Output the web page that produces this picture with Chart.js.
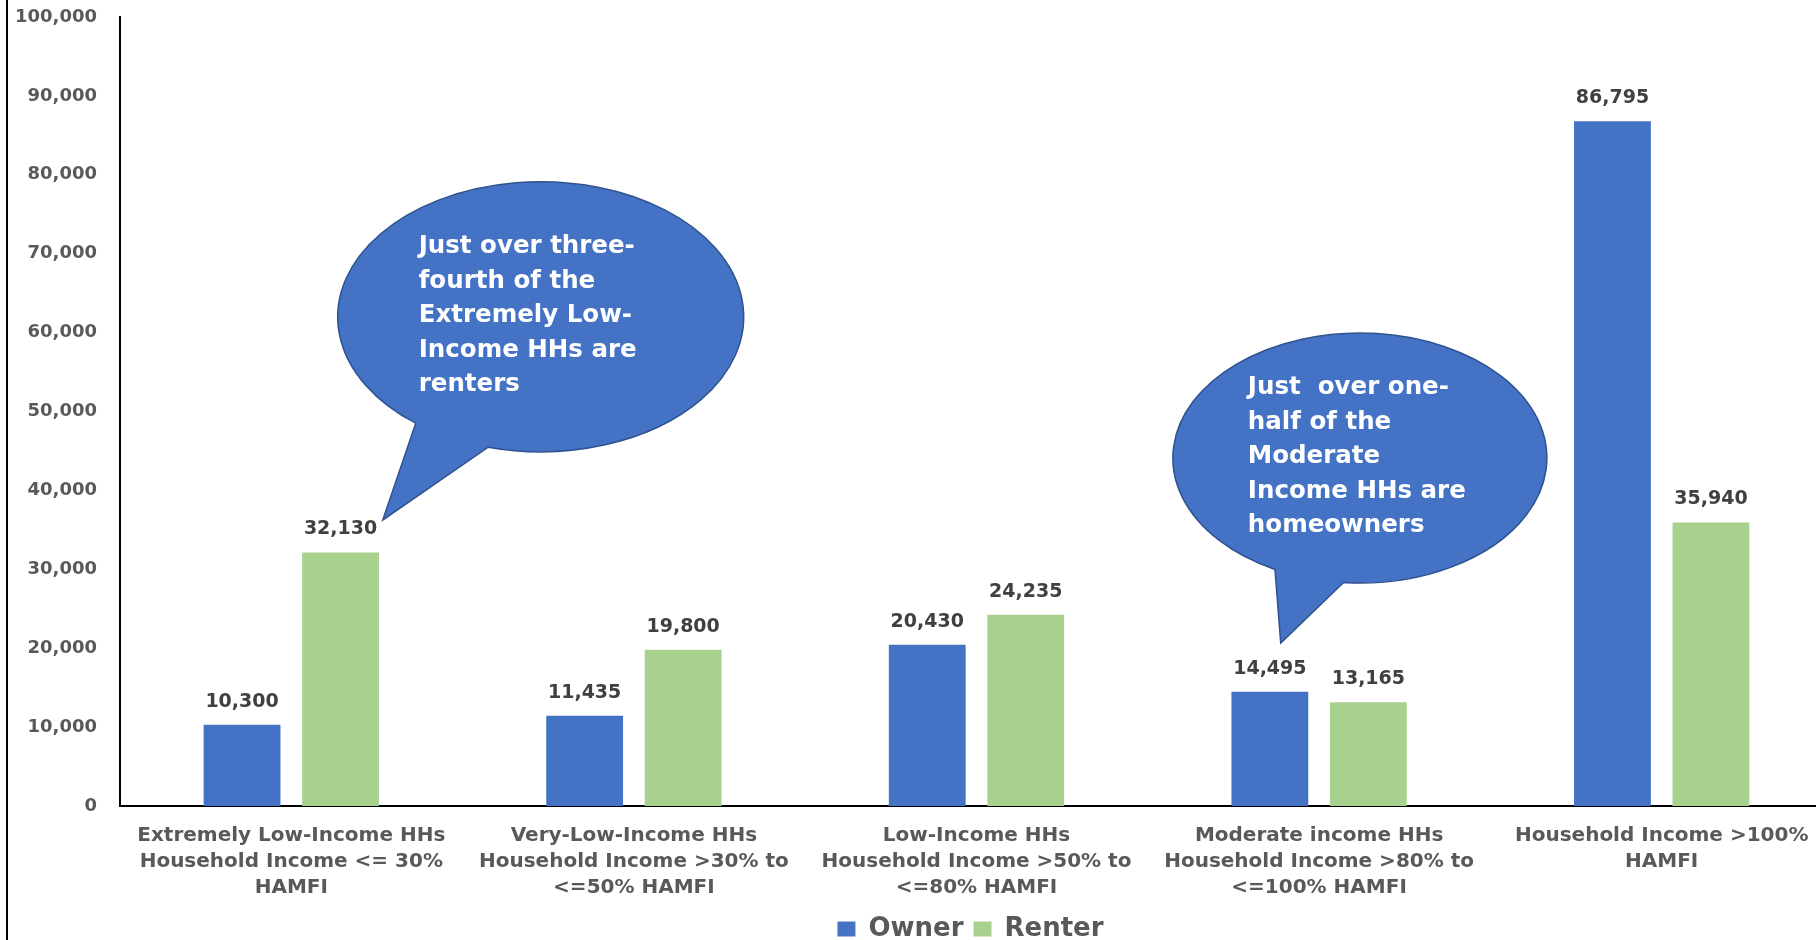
<!DOCTYPE html>
<html>
<head>
<meta charset="utf-8">
<script src="https://cdn.jsdelivr.net/npm/chart.js@4.4.1/dist/chart.umd.min.js"></script>
<style>
  html, body { margin: 0; padding: 0; background: #fff; overflow: hidden; }
  #wrap { position: relative; width: 1836px; height: 940px; }
</style>
</head>
<body>
<div id="wrap"><canvas id="chart"></canvas></div>
<script>
const categories = [
  ["Extremely Low-Income HHs", "Household Income <= 30%", "HAMFI"],
  ["Very-Low-Income HHs", "Household Income >30% to", "<=50% HAMFI"],
  ["Low-Income HHs", "Household Income >50% to", "<=80% HAMFI"],
  ["Moderate income HHs", "Household Income >80% to", "<=100% HAMFI"],
  ["Household Income >100%", "HAMFI"],
];
const ownerValues = [10300, 11435, 20430, 14495, 86795];
const renterValues = [32130, 19800, 24235, 13165, 35940];
const seriesNames = ["Owner", "Renter"];

const yTicksMax = 100000;
const yTicksStep = 10000;

// callout bubbles: anchored in category index / value units
const callout1Text = ["Just over three-", "fourth of the", "Extremely Low-", "Income HHs are", "renters"];
const callout2Text = ["Just  over one-", "half of the", "Moderate", "Income HHs are", "homeowners"];

const callouts = [
  { text: callout1Text, x: 0.728, y: 62000, tipX: 0.267, tipY: 36250, rx: 203, ry: 135, angA: 128, angB: 105, tx: -122 },
  { text: callout2Text, x: 3.119, y: 44100, tipX: 2.888, tipY: 20660, rx: 187, ry: 125, angA: 117, angB: 95, tx: -112 },
];

const FONT = "'DejaVu Sans', Verdana, sans-serif";
Chart.defaults.font.family = FONT;

const fmt = (v) => Number(v).toLocaleString("en-US");

const framePlugin = {
  id: "frame",
  beforeDraw(chart) {
    const ctx = chart.ctx;
    ctx.save();
    ctx.fillStyle = "#000";
    ctx.fillRect(6, 0, 2, chart.height);
    ctx.restore();
  },
};

const valueLabels = {
  id: "valueLabels",
  afterDatasetsDraw(chart) {
    const ctx = chart.ctx;
    ctx.save();
    ctx.font = `bold 19px ${FONT}`;
    ctx.fillStyle = "#404040";
    ctx.textAlign = "center";
    ctx.textBaseline = "middle";
    chart.data.datasets.forEach((ds, i) => {
      chart.getDatasetMeta(i).data.forEach((bar, j) => {
        ctx.fillText(fmt(ds.data[j]), bar.x, bar.y - 23);
      });
    });
    ctx.restore();
  },
};

const bubbles = {
  id: "bubbles",
  afterDraw(chart) {
    const ctx = chart.ctx;
    const xs = chart.scales.x;
    const ys = chart.scales.y;
    callouts.forEach((c) => {
      const cx = xs.getPixelForValue(c.x);
      const cy = ys.getPixelForValue(c.y);
      const tipX = xs.getPixelForValue(c.tipX);
      const tipY = ys.getPixelForValue(c.tipY);
      const a = (c.angA * Math.PI) / 180;
      const b = (c.angB * Math.PI) / 180 + Math.PI * 2;

      ctx.save();
      ctx.beginPath();
      ctx.moveTo(tipX, tipY);
      ctx.lineTo(cx + c.rx * Math.cos(a), cy + c.ry * Math.sin(a));
      ctx.ellipse(cx, cy, c.rx, c.ry, 0, a, b, false);
      ctx.lineTo(tipX, tipY);
      ctx.closePath();
      ctx.fillStyle = "#4472C4";
      ctx.fill();
      ctx.lineWidth = 1.5;
      ctx.strokeStyle = "#2F528F";
      ctx.stroke();

      ctx.fillStyle = "#fff";
      ctx.font = `bold 24.5px ${FONT}`;
      ctx.textAlign = "left";
      ctx.textBaseline = "middle";
      c.text.forEach((line, k) => {
        ctx.fillText(line, cx + c.tx, cy - 70 + k * 34.5);
      });
      ctx.restore();
    });
  },
};

// move the legend right so it sits where the original one is
const legendShift = {
  id: "legendShift",
  afterLayout(chart) {
    const lg = chart.legend;
    if (lg) {
      lg.left += 54;
      lg.right += 54;
    }
  },
};

new Chart(document.getElementById("chart"), {
  type: "bar",
  data: {
    labels: categories,
    datasets: [
      {
        label: seriesNames[0],
        data: ownerValues,
        backgroundColor: "#4472C4",
        barPercentage: 0.78,
        categoryPercentage: 0.575,
      },
      {
        label: seriesNames[1],
        data: renterValues,
        backgroundColor: "#A9D18E",
        barPercentage: 0.78,
        categoryPercentage: 0.575,
      },
    ],
  },
  options: {
    responsive: true,
    maintainAspectRatio: false,
    animation: false,
    layout: { autoPadding: false, padding: { top: 17, right: 3, left: 0, bottom: 0 } },
    plugins: {
      legend: {
        position: "bottom",
        maxHeight: 34,
        labels: {
          boxWidth: 18,
          boxHeight: 15,
          padding: 10,
          color: "#595959",
          font: { size: 26, weight: "bold" },
        },
      },
      tooltip: { enabled: false },
    },
    scales: {
      x: {
        grid: { display: false, drawTicks: false },
        border: { color: "#000", width: 2 },
        ticks: {
          color: "#595959",
          font: { size: 20, weight: "bold", lineHeight: 1.3 },
          padding: 17,
          maxRotation: 0,
          autoSkip: false,
        },
        afterFit: (s) => { s.height = 100; },
      },
      y: {
        min: 0,
        max: yTicksMax,
        grid: { display: false, drawTicks: false },
        border: { color: "#000", width: 2 },
        ticks: {
          stepSize: yTicksStep,
          color: "#595959",
          font: { size: 18, weight: "bold" },
          padding: 23,
          callback: (v) => fmt(v),
        },
        afterFit: (s) => {
          s.width = 120;
          s.paddingTop = 0;
          s.paddingBottom = 0;
        },
      },
    },
  },
  plugins: [framePlugin, valueLabels, bubbles, legendShift],
});
</script>
</body>
</html>
